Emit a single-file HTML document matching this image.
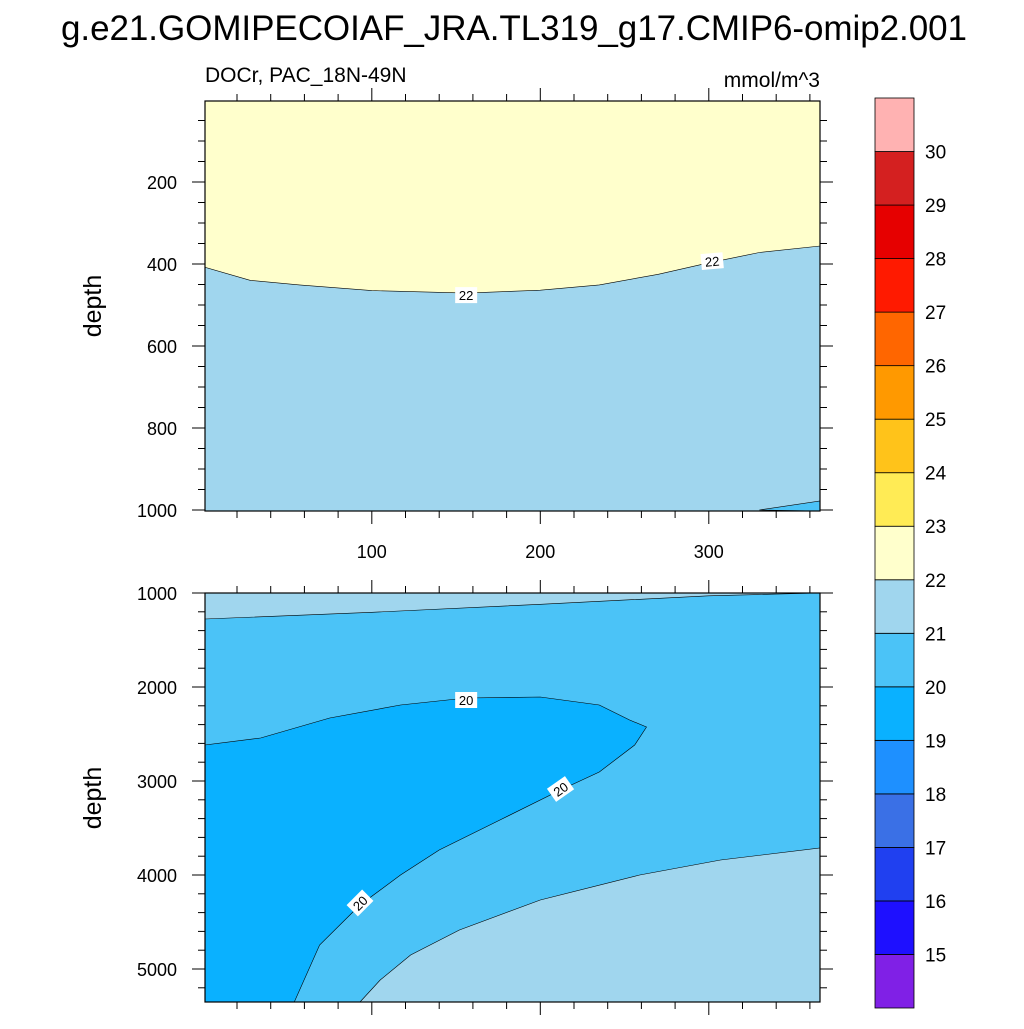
<!DOCTYPE html>
<html><head><meta charset="utf-8"><style>
body{margin:0;background:#fff;}
svg text{font-family:"Liberation Sans",sans-serif;fill:#000;}
</style></head><body>
<svg id="chart" width="1024" height="1024" xmlns="http://www.w3.org/2000/svg">
<text x="514" y="40" font-size="35" textLength="906" text-anchor="middle">g.e21.GOMIPECOIAF_JRA.TL319_g17.CMIP6-omip2.001</text>
<text x="205" y="82" font-size="21">DOCr, PAC_18N-49N</text>
<text x="820" y="87" font-size="21" text-anchor="end">mmol/m^3</text>
<text transform="translate(101,306) rotate(-90)" font-size="25" text-anchor="middle">depth</text>
<text transform="translate(101,798) rotate(-90)" font-size="25" text-anchor="middle">depth</text>
<g id="top"></g>
<g id="bot"></g>
<g id="cbar"></g>
</svg>
<script>
const NS="http://www.w3.org/2000/svg";
// data
const topLineDays=[1,28,57,100,156,200,235,270,299,330,366];
const topLineDepth=[408,440,451,465,471,464,451,425,398,372,356];
const topCornerDays=[330,366];
const topCornerDepth=[1000,978];
const botTopDays=[1,100,200,300,366];
const botTopDepth=[1277,1205,1120,1030,1000];
const c20Days=[1,34,75,117,156,200,235,253,263,256,235,212,176,140,117,93,69,54];
const c20Depth=[2617,2543,2330,2191,2117,2106,2191,2351,2426,2617,2904,3096,3415,3734,4000,4319,4745,5351];
const low22Days=[93,105,123,152,200,259,307,366];
const low22Depth=[5351,5117,4851,4585,4266,4000,3840,3713];
const levels=[15,16,17,18,19,20,21,22,23,24,25,26,27,28,29,30];
const colors=["#8020E6","#1E10FF","#2040F0","#3A70E6","#1E90FF","#0AB1FF","#4BC3F7","#A0D6EE","#FFFFCC","#FFEB55","#FFC31A","#FF9900","#FF6600","#FF1A00","#E60000","#D42020","#FFB2B2"];
const xTicks=[100,200,300];
const topYTicks=[200,400,600,800,1000];
const botYTicks=[1000,2000,3000,4000,5000];

const X0=205,X1=820;
const xs=d=>X0+(d-1)*(X1-X0)/365;
const ysT=v=>100+v*0.41;
const ysB=v=>593+(v-1000)*0.094;
function el(tag,attrs,parent){const e=document.createElementNS(NS,tag);for(const k in attrs)e.setAttribute(k,attrs[k]);parent.appendChild(e);return e;}
function pts(ds,vs,ys){return ds.map((d,i)=>xs(d).toFixed(1)+","+ys(vs[i]).toFixed(1));}
function label(g,x,y,t,rot){const gg=el("g",{transform:`translate(${x},${y}) rotate(${rot||0})`},g);
 
 
 el("rect",{x:-11,y:-8,width:22,height:16,fill:"#fff"},gg);
 const t2=el("text",{x:0,y:5,"font-size":"13","text-anchor":"middle"},gg);t2.textContent=t;}
function axes(g,yT,ys,yb,ytop,minStep,yMin,yMax,showX){
 el("rect",{x:X0,y:ytop,width:X1-X0,height:yb-ytop,fill:"none",stroke:"#000","stroke-width":1.2},g);
 for(let d=20;d<=360;d+=20){const x=xs(d);const maj=d%100===0;
  el("line",{x1:x,x2:x,y1:ytop,y2:ytop-(maj?13:7),stroke:"#000"},g);
  el("line",{x1:x,x2:x,y1:yb,y2:yb+(maj?13:7),stroke:"#000"},g);}
 if(showX)xTicks.forEach(v=>{const t=el("text",{x:xs(v),y:yb+47,"font-size":"18","text-anchor":"middle"},g);t.textContent=v;
  });
 for(let v=yMin;v<=yMax;v+=minStep){const y=ys(v);if(y<ytop-0.5||y>yb+0.5)continue;const maj=yT.includes(v);
  el("line",{x1:X0,x2:X0-(maj?13:7),y1:y,y2:y,stroke:"#000"},g);
  el("line",{x1:X1,x2:X1+(maj?13:7),y1:y,y2:y,stroke:"#000"},g);}
 yT.forEach(v=>{const t=el("text",{x:177,y:ys(v)+7,"font-size":"18","text-anchor":"end"},g);t.textContent=v;
  });
}
// top panel
const gt=document.getElementById("top");
el("rect",{x:X0,y:101,width:X1-X0,height:410,fill:"#A0D6EE"},gt);
const up=el("polygon",{points:[X0+",101",...pts(topLineDays,topLineDepth,ysT),X1+",101"].join(" "),fill:"#FFFFCC",stroke:"#000","stroke-width":0.6},gt);

el("polygon",{points:[...pts(topCornerDays,topCornerDepth,ysT),X1+",511"].join(" "),fill:"#4BC3F7",stroke:"#000","stroke-width":0.6},gt);
axes(gt,topYTicks,ysT,511,101,50,50,1000,true);
label(gt,xs(156),ysT(471)+2,"22",0);label(gt,xs(302),ysT(393),"22",-5);
// bottom panel
const gb=document.getElementById("bot");
el("rect",{x:X0,y:593,width:X1-X0,height:409,fill:"#4BC3F7"},gb);
el("polygon",{points:[X0+",593",...pts(botTopDays,botTopDepth,ysB)].join(" "),fill:"#A0D6EE",stroke:"#000","stroke-width":0.6},gb);
const p20=el("polygon",{points:[X0+",1002",...pts(c20Days,c20Depth,ysB)].join(" "),fill:"#0AB1FF",stroke:"#000","stroke-width":0.6},gb);

el("polygon",{points:[...pts(low22Days,low22Depth,ysB),X1+",1002"].join(" "),fill:"#A0D6EE",stroke:"#000","stroke-width":0.6},gb);
axes(gb,botYTicks,ysB,1002,593,200,1000,5400,false);
label(gb,xs(156),ysB(2117)+2,"20",0);label(gb,xs(212),ysB(3096)-1,"20",-35);label(gb,xs(93),ysB(4319)-2,"20",-45);
// colorbar
const gc=document.getElementById("cbar");
const cbTop=98,cbH=(1008-98)/17;
colors.forEach((c,i)=>{const y=1008-(i+1)*cbH;const r=el("rect",{x:875,y:y,width:39,height:cbH,fill:c,stroke:"#000","stroke-width":0.8},gc);
 });
levels.forEach((v,i)=>{const y=1008-(i+1)*cbH;const t=el("text",{x:925,y:y+7,"font-size":"19"},gc);t.textContent=v;
 });
</script>
</body></html>
